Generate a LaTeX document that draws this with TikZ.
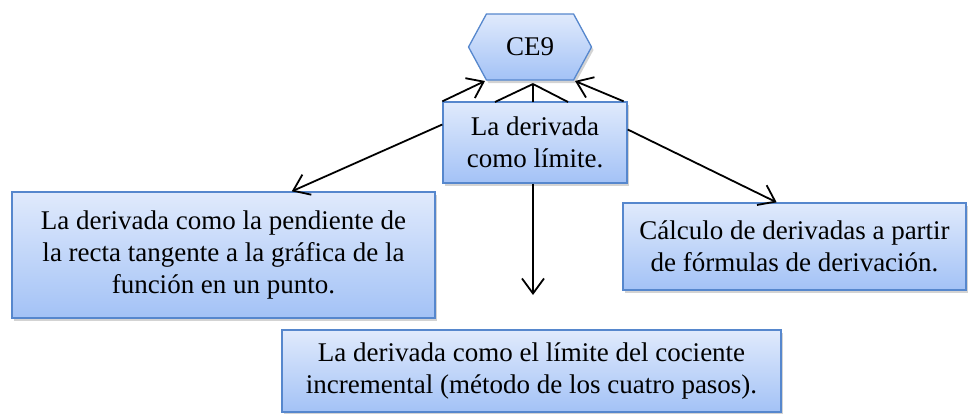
\documentclass[tikz,border=0pt]{standalone}
\usepackage{fontspec}
\setmainfont{Liberation Serif}
\usetikzlibrary{arrows.meta,shapes.symbols,shadows,calc}

\definecolor{boxtop}{RGB}{224,234,252}
\definecolor{boxbot}{RGB}{163,194,246}
\definecolor{boxline}{RGB}{86,135,205}

\tikzset{
  tema/.style={draw=boxline, line width=1.3pt, top color=boxtop, bottom color=boxbot,
    drop shadow={opacity=0.35, shadow xshift=2pt, shadow yshift=-3pt},
    font=\fontsize{27}{32}\selectfont, align=center, inner sep=0pt},
  flecha/.style={line width=1.8pt, -{Straight Barb[length=15pt,width=22pt]}}
}

\begin{document}
\begin{tikzpicture}[x=1pt, y=-1pt]
\useasboundingbox (0,0) rectangle (975,413);

\node[tema, signal, signal to=west and east, signal pointer angle=123,
  minimum width=123, minimum height=66] (ce9) at (530,47) {CE9};
\node[tema, minimum width=184, minimum height=81] (lim) at (535,142.5) {La derivada\\ como límite.};
\node[tema, minimum width=423, minimum height=126] (pend) at (223.5,255)
  {La derivada como la pendiente de\\ la recta tangente a la gráfica de la\\ función en un punto.};
\node[tema, minimum width=343, minimum height=87] (form) at (794.5,246.5)
  {Cálculo de derivadas a partir\\ de fórmulas de derivación.};
\node[tema, minimum width=499, minimum height=82] (coc) at (531.5,371)
  {La derivada como el límite del cociente\\ incremental (método de los cuatro pasos).};

\coordinate (abajo) at (533,295);
\coordinate (pico) at (533,84);
\coordinate (ceizq) at (485,81);
\coordinate (ceder) at (575,81);
\coordinate (t1) at (495,102);
\coordinate (t2) at (533,102);
\coordinate (t3) at (568,102);

\begin{scope}[flecha]
\draw (lim.169) -- (pend.43); %lim-pend
\draw (lim.8) -- (form.112); %lim-form
\draw (lim.south -| abajo) -- (abajo); %lim-coc
\draw (lim.north west) -- (ceizq); %lim-ce9
\draw (lim.north east) ++(-4,0) -- (ceder); %lim-ce9
\end{scope}

\begin{scope}[line width=1.8pt]
\draw (t1) -- (pico);
\draw (t2) -- (pico);
\draw (t3) -- (pico);
\end{scope}

\end{tikzpicture}
\end{document}
